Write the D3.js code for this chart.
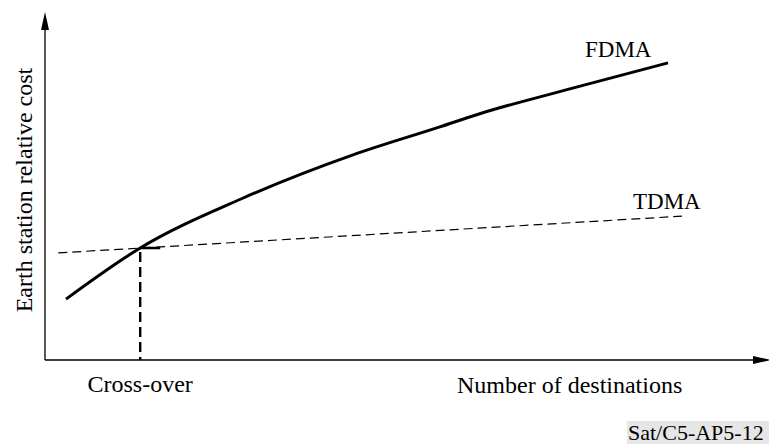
<!DOCTYPE html>
<html><head><meta charset="utf-8">
<script src="https://cdn.jsdelivr.net/npm/d3@7"></script>
<style>html,body{margin:0;padding:0;background:#fff;}svg{display:block;}</style>
</head><body>
<script>
// Data (arbitrary relative units)
const fdmaX = [3, 13.6, 28, 44, 56.4, 62, 74.3, 89];
const fdmaY = [17.4, 32, 46, 58.6, 66.6, 70.3, 77.1, 84.9];
const tdmaX = [1.9, 91];
const tdmaY = [30.6, 41.1];
const crossX = 13.6, crossY = 32;
const seriesNames = ["FDMA", "TDMA"];
const xLabel = "Number of destinations";
const yLabel = "Earth station relative cost";
const crossLabel = "Cross-over";
const figId = "Sat/C5-AP5-12";

const W = 769, H = 444;
const svg = d3.select("body").append("svg").attr("width", W).attr("height", H);
const x = d3.scaleLinear().domain([0, 100]).range([45, 745]);
const y = d3.scaleLinear().domain([0, 100]).range([360, 10]);
const font = "'Liberation Serif','Times New Roman',serif";

// Axes
const ax = svg.append("g").attr("stroke", "#000").attr("stroke-width", 1.3);
ax.append("line").attr("x1", x(0)).attr("y1", y(0)).attr("x2", 757).attr("y2", y(0));
ax.append("line").attr("x1", x(0)).attr("y1", y(0)).attr("x2", x(0)).attr("y2", 28);
svg.append("path").attr("d", `M${x(0)},12 L${x(0)-4},30 L${x(0)+4},30 Z`).attr("fill", "#000");
svg.append("path").attr("d", `M771,${y(0)} L753,${y(0)-4} L753,${y(0)+4} Z`).attr("fill", "#000");

// TDMA dashed line
const tdma = tdmaX.map((v, i) => [v, tdmaY[i]]);
svg.append("path").datum(tdma)
  .attr("d", d3.line().x(d => x(d[0])).y(d => y(d[1])))
  .attr("fill", "none").attr("stroke", "#000").attr("stroke-width", 1.2)
  .attr("stroke-dasharray", "9,5");

// Cross-over drop line
svg.append("path")
  .attr("d", `M${x(crossX)+20},${y(crossY)} L${x(crossX)},${y(crossY)} L${x(crossX)},${y(0)}`)
  .attr("fill", "none").attr("stroke", "#000").attr("stroke-width", 2.4)
  .attr("stroke-dasharray", "20,4,10,5,10,5,10,5,10,5,10,5,10,5,10,5,10,5,10,5,10,5");

// FDMA curve
const fdma = fdmaX.map((v, i) => [v, fdmaY[i]]);
svg.append("path").datum(fdma)
  .attr("d", d3.line().x(d => x(d[0])).y(d => y(d[1])).curve(d3.curveMonotoneX))
  .attr("fill", "none").attr("stroke", "#000").attr("stroke-width", 3)
  .attr("stroke-linecap", "butt");

// Figure id background
svg.append("rect").attr("x", 627).attr("y", 421).attr("width", 142).attr("height", 23).attr("fill", "#e6e6e6");

// Texts
const t = svg.append("g").attr("font-family", font).attr("fill", "#000");
t.append("text").attr("x", 585).attr("y", 57).attr("font-size", 23).text(seriesNames[0]);
t.append("text").attr("x", 633).attr("y", 209).attr("font-size", 23).text(seriesNames[1]);
t.append("text").attr("x", x(crossX)).attr("y", 392).attr("text-anchor", "middle").attr("font-size", 24).text(crossLabel);
t.append("text").attr("x", 457).attr("y", 393).attr("font-size", 24).text(xLabel);
t.append("text").attr("transform", "translate(32,190) rotate(-90)").attr("text-anchor", "middle").attr("font-size", 24).text(yLabel);
t.append("text").attr("x", 628).attr("y", 440).attr("font-size", 22).text(figId);
</script>
</body></html>
